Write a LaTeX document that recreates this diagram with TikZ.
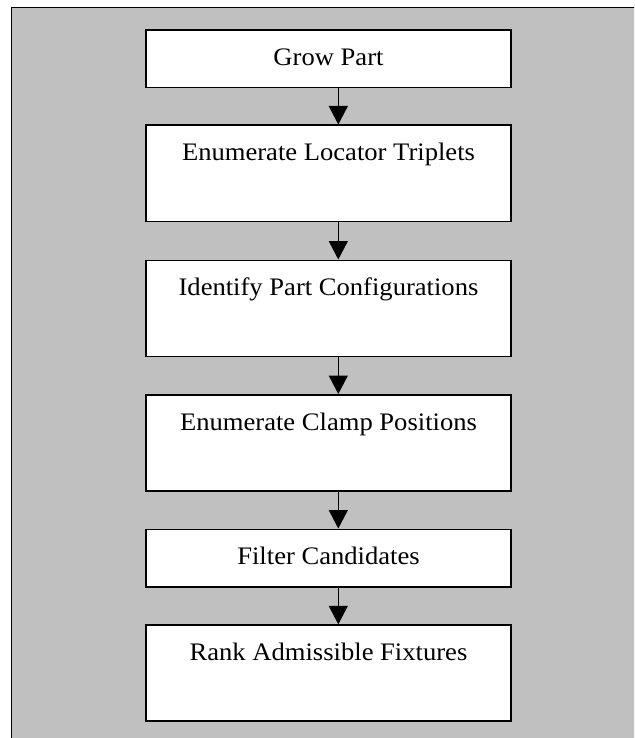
\documentclass[tikz,border=0pt]{standalone}
\usepackage{fontspec}
\setmainfont[FakeStretch=1.055]{Liberation Serif}
\usetikzlibrary{arrows.meta}
\definecolor{panelgray}{HTML}{C0C0C0}
\tikzset{
  x=1pt, y=-1pt,
  stagebox/.style={draw=black, line width=1.6pt, fill=white,
    minimum width=365pt, anchor=north, inner xsep=0pt, inner ysep=0pt,
    text height=35.5pt, align=center,
    font=\fontsize{25.2}{30}\selectfont},
  flow/.style={line width=1.3pt, -{Triangle[length=18.5pt, width=19pt]}},
}
\begin{document}
\begin{tikzpicture}
  \clip (0,0) rectangle (634,738);
  \fill[white] (0,0) rectangle (634,738);
  % grey panel, running past the right and bottom edges
  \draw[fill=panelgray, line width=1.3pt] (11.7,7.3) rectangle (650,760);

  % process stages
  \node[stagebox, text depth=22.2pt] (grow)   at (328.5,29)    {Grow Part};
  \node[stagebox, text depth=60.8pt] (locate) at (328.5,124.5) {Enumerate Locator Triplets};
  \node[stagebox, text depth=60.8pt] (config) at (328.5,259.5) {Identify Part Configurations};
  \node[stagebox, text depth=60.5pt] (clamp)  at (328.5,394)   {Enumerate Clamp Positions};
  \node[stagebox, text depth=22.2pt] (filter) at (328.5,528.5) {Filter Candidates};
  \node[stagebox, text depth=60.2pt] (rank)   at (328.5,624.3) {Rank Admissible Fixtures};

  % arrows run slightly right of the box centres
  \coordinate (ax) at (338.3,0);
  \draw[flow] (grow.south -| ax)   -- (locate.north -| ax);
  \draw[flow] (locate.south -| ax) -- (config.north -| ax);
  \draw[flow] (config.south -| ax) -- (clamp.north -| ax);
  \draw[flow] (clamp.south -| ax)  -- (filter.north -| ax);
  \draw[flow] (filter.south -| ax) -- (rank.north -| ax);
\end{tikzpicture}
\end{document}
